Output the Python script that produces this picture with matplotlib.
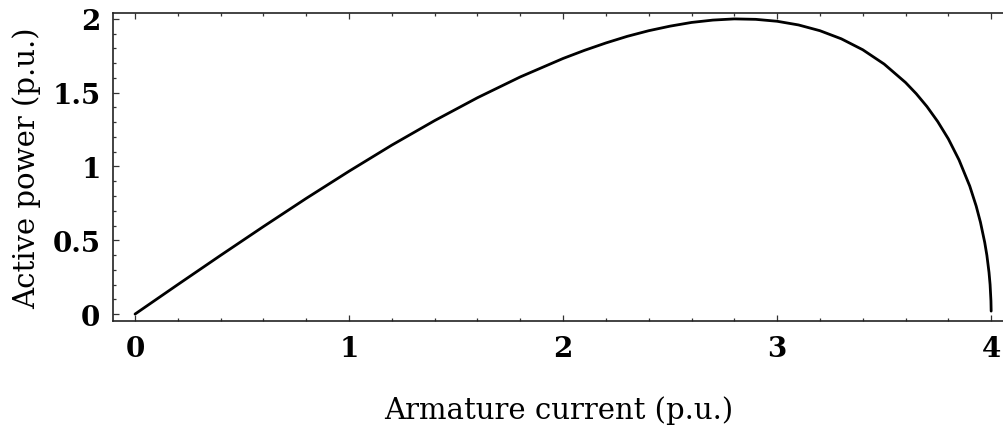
import matplotlib
matplotlib.use("Agg")
import matplotlib.pyplot as plt
from matplotlib.ticker import MultipleLocator

current = [0.0, 0.2, 0.4, 0.6, 0.8, 1.0, 1.2, 1.4, 1.6, 1.8, 2.0, 2.1, 2.2, 2.3, 2.4,
           2.5, 2.6, 2.7, 2.8, 2.9, 3.0, 3.1, 3.2, 3.3, 3.4, 3.5, 3.6, 3.65, 3.7, 3.75,
           3.8, 3.85, 3.9, 3.93, 3.95, 3.97, 3.98, 3.99, 3.995, 3.999, 4.0]
power = [0.0, 0.200, 0.398, 0.593, 0.784, 0.968, 1.145, 1.311, 1.466, 1.607, 1.732,
         1.787, 1.837, 1.882, 1.920, 1.951, 1.976, 1.992, 2.000, 1.997, 1.984, 1.959,
         1.920, 1.865, 1.791, 1.694, 1.569, 1.493, 1.406, 1.305, 1.187, 1.044, 0.867,
         0.732, 0.622, 0.485, 0.398, 0.282, 0.200, 0.089, 0.02]
xticks = [0, 1, 2, 3, 4]
yticks = [0, 0.5, 1, 1.5, 2]
yticklabels = ["0", "0.5", "1", "1.5", "2"]

plt.rcParams['font.family'] = ['DejaVu Serif']
fig = plt.figure(figsize=(10.04, 4.31), dpi=100)
ax = fig.add_axes([113/1004, 1 - 322/431, 1 - 113/1004, (322 - 14)/431])
ax.plot(current, power, color='black', lw=2.0, solid_capstyle='round')
ax.set_xlim(-0.103, 4.06)
ax.set_ylim(-0.047, 2.04)
ax.set_xticks(xticks)
ax.set_xticklabels([str(t) for t in xticks])
ax.set_yticks(yticks)
ax.set_yticklabels(yticklabels)
ax.xaxis.set_minor_locator(MultipleLocator(0.2))
ax.yaxis.set_minor_locator(MultipleLocator(0.1))
ax.tick_params(which='both', direction='in', top=True, right=False, width=0.9, color='#333333')
ax.tick_params(which='major', length=4.5, labelsize=20)
ax.tick_params(axis='x', which='major', pad=10)
ax.tick_params(axis='y', which='major', pad=9)
ax.tick_params(which='minor', length=2.5)
for lab in ax.get_xticklabels() + ax.get_yticklabels():
    lab.set_fontweight('bold')
ax.spines['right'].set_visible(False)
for s in ['left', 'top', 'bottom']:
    ax.spines[s].set_linewidth(1.2)
    ax.spines[s].set_color('#222222')
ax.set_xlabel('Armature current (p.u.)', fontsize=21, labelpad=24)
ax.set_ylabel('Active power (p.u.)', fontsize=21, labelpad=8)
fig.savefig('out.png', dpi=100)
